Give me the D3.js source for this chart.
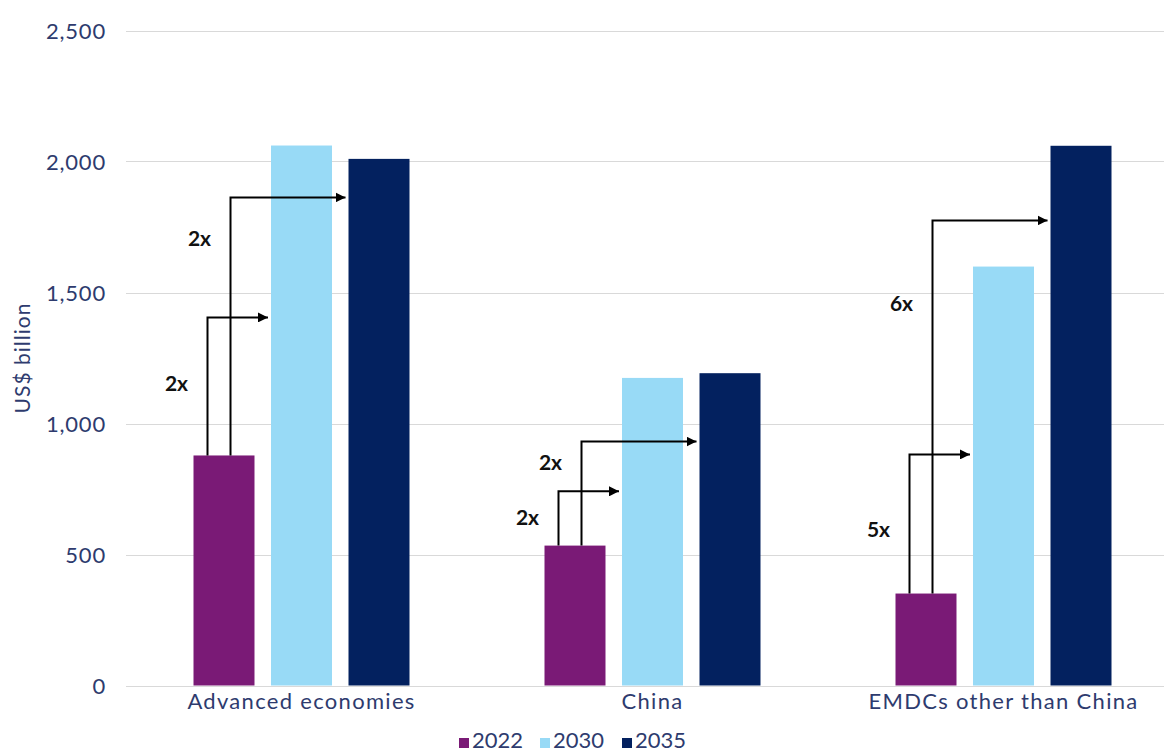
<!DOCTYPE html>
<html>
<head>
<meta charset="utf-8">
<script src="https://cdn.jsdelivr.net/npm/d3@7"></script>
<style>
  html, body { margin: 0; padding: 0; background: #ffffff; }
  svg { display: block; }
</style>
</head>
<body>
<svg id="chart" width="1166" height="753"></svg>
<script>
// ---- Data ----
const categories = ["Advanced economies", "China", "EMDCs other than China"];
const years = ["2022", "2030", "2035"];
const values2022 = [878, 534, 351];
const values2030 = [2061, 1174, 1599];
const values2035 = [2010, 1192, 2060];
const yTicks = [0, 500, 1000, 1500, 2000, 2500];
// Growth annotations: arrow from the 2022 bar to the 2030 / 2035 bar
const toYears = ["2030", "2035"];
const arrowLevel2030 = [1405, 741, 882];
const arrowLevel2035 = [1863, 931, 1775];
const multiplier2030 = ["2x", "2x", "5x"];
const multiplier2035 = ["2x", "2x", "6x"];
const labelLevel2030 = [1153, 641, 595];
const labelLevel2035 = [1706, 851, 1458];

// ---- Styles ----
const colors = { "2022": "#7a1a76", "2030": "#98daf6", "2035": "#03215f" };
const textColor = "#2e3b6e";
const fontFamily = "Lato, 'Open Sans', sans-serif";

const svg = d3.select("#chart");
const plot = { left: 126, right: 1179, top: 30.5, bottom: 685.5 };

const seriesByYear = { "2022": values2022, "2030": values2030, "2035": values2035 };

const y = d3.scaleLinear().domain([0, 2500]).range([plot.bottom, plot.top]);
const x0 = d3.scaleBand().domain(categories).range([plot.left, plot.right]).padding(0);
const x1 = d3.scaleBand().domain(years).range([-108, 108]).paddingInner(0.213).paddingOuter(0);

// gridlines
svg.append("g").selectAll("line").data(yTicks).join("line")
  .attr("x1", plot.left).attr("x2", 1164)
  .attr("y1", d => Math.round(y(d)) + 0.5).attr("y2", d => Math.round(y(d)) + 0.5)
  .attr("stroke", "#d9d9d9").attr("stroke-width", 1);

// y axis labels
const yAxis = d3.axisLeft(y).tickValues(yTicks).tickFormat(d3.format(",")).tickSize(0).tickPadding(0);
const gy = svg.append("g").attr("transform", `translate(106,0)`).call(yAxis);
gy.select(".domain").remove();
gy.selectAll("text").attr("font-family", fontFamily).attr("font-size", 22)
  .attr("letter-spacing", "0.8px")
  .attr("fill", textColor).attr("dy", "0.35em");

// y axis title
svg.append("text")
  .attr("transform", `translate(30,358) rotate(-90)`)
  .attr("text-anchor", "middle")
  .attr("font-family", fontFamily).attr("font-size", 21).attr("letter-spacing", "1px")
  .attr("fill", textColor)
  .text("US$ billion");

// bars
const groups = svg.append("g").selectAll("g").data(categories).join("g")
  .attr("transform", d => `translate(${x0(d) + x0.bandwidth() / 2},0)`);
groups.selectAll("rect")
  .data((c, i) => years.map(yr => ({ yr, v: seriesByYear[yr][i] })))
  .join("rect")
  .attr("x", d => x1(d.yr)).attr("width", x1.bandwidth())
  .attr("y", d => y(d.v)).attr("height", d => y(0) - y(d.v))
  .attr("fill", d => colors[d.yr]);

// x axis labels
const xAxis = d3.axisBottom(x0).tickSize(0).tickPadding(0);
const gx = svg.append("g").attr("transform", `translate(0,${plot.bottom})`).call(xAxis);
gx.select(".domain").remove();
gx.selectAll("text").attr("font-family", fontFamily).attr("font-size", 22)
  .attr("letter-spacing", "1.3px")
  .attr("fill", textColor).attr("dy", "1.05em").attr("y", 0);

// arrows
svg.append("defs").append("marker")
  .attr("id", "arrowhead").attr("viewBox", "0 0 10 10")
  .attr("refX", 10).attr("refY", 5)
  .attr("markerWidth", 5).attr("markerHeight", 5)
  .attr("markerUnits", "strokeWidth")
  .attr("orient", "auto")
  .append("path").attr("d", "M0,0 L10,5 L0,10 Z").attr("fill", "#000");

const startFrac = { "2030": 0.22, "2035": 0.6 };
const levels = { "2030": arrowLevel2030, "2035": arrowLevel2035 };
const mults = { "2030": multiplier2030, "2035": multiplier2035 };
const labLv = { "2030": labelLevel2030, "2035": labelLevel2035 };

const ann = svg.append("g");
categories.forEach((c, i) => {
  const cx = x0(c) + x0.bandwidth() / 2;
  toYears.forEach(yr => {
    const vx = Math.round(cx + x1("2022") + x1.bandwidth() * startFrac[yr]) + 0.5;
    const top = y(levels[yr][i]);
    const endX = cx + x1(yr) - 3;
    ann.append("path")
      .attr("d", `M${vx},${y(values2022[i])} L${vx},${top} L${endX},${top}`)
      .attr("fill", "none").attr("stroke", "#000").attr("stroke-width", 2)
      .attr("marker-end", "url(#arrowhead)");
    ann.append("text")
      .attr("x", vx - 31).attr("y", y(labLv[yr][i]))
      .attr("dy", "0.35em").attr("text-anchor", "middle")
      .attr("font-family", fontFamily).attr("font-size", 21).attr("font-weight", 700)
      .attr("fill", "#111")
      .text(mults[yr][i]);
  });
});

// legend
const legendX = [459, 540, 622];
const lg = svg.append("g").selectAll("g").data(years).join("g")
  .attr("transform", (d, i) => `translate(${legendX[i]},0)`);
lg.append("rect").attr("x", 0).attr("y", 738).attr("width", 10).attr("height", 10)
  .attr("fill", d => colors[d]);
lg.append("text").attr("x", 13).attr("y", 748)
  .attr("font-family", fontFamily).attr("font-size", 22).attr("fill", textColor)
  .text(d => d);
</script>
</body>
</html>
